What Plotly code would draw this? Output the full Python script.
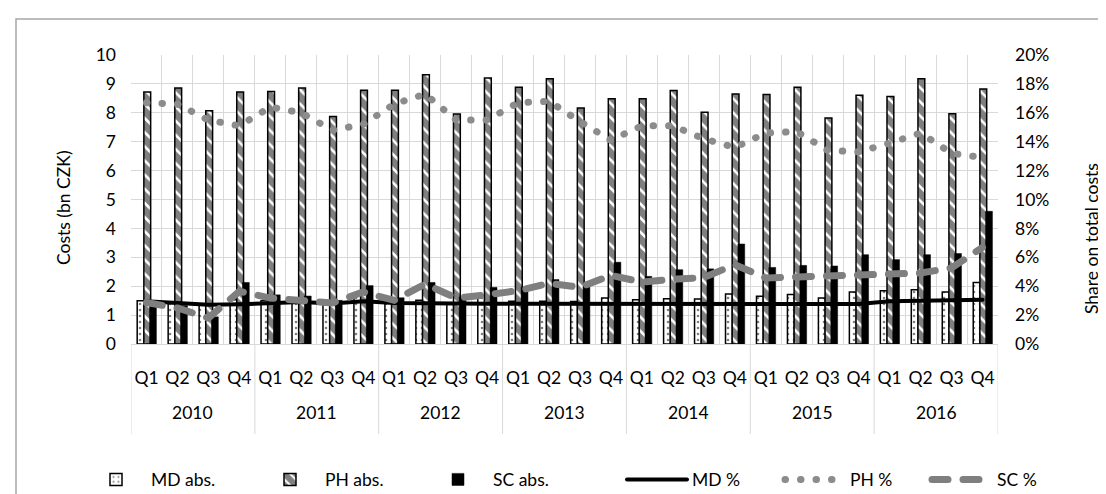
import plotly.graph_objects as go

years = ["2010", "2011", "2012", "2013", "2014", "2015", "2016"]
quarters = ["Q1", "Q2", "Q3", "Q4"]

md_abs = [1.50, 1.45, 1.38, 1.53, 1.50, 1.59, 1.49, 1.68,
          1.50, 1.51, 1.43, 1.68, 1.48, 1.48, 1.47, 1.59,
          1.53, 1.57, 1.56, 1.73, 1.65, 1.71, 1.59, 1.80,
          1.84, 1.88, 1.80, 2.13]
ph_abs = [8.72, 8.86, 8.07, 8.72, 8.74, 8.86, 7.87, 8.78,
          8.78, 9.32, 7.96, 9.20, 8.88, 9.18, 8.17, 8.49,
          8.49, 8.77, 8.02, 8.65, 8.63, 8.88, 7.82, 8.61,
          8.56, 9.18, 7.97, 8.82]
sc_abs = [1.50, 1.33, 0.94, 2.13, 1.70, 1.66, 1.51, 2.02,
          1.60, 2.13, 1.63, 1.96, 1.96, 2.23, 2.00, 2.83,
          2.34, 2.57, 2.60, 3.46, 2.65, 2.72, 2.70, 3.09,
          2.92, 3.09, 3.13, 4.59]
md_pct = [2.95, 2.85, 2.72, 2.75, 2.84, 2.90, 2.80, 2.95,
          2.84, 2.80, 2.78, 2.78, 2.78, 2.78, 2.76, 2.76,
          2.76, 2.76, 2.76, 2.77, 2.77, 2.77, 2.77, 2.77,
          2.95, 2.97, 3.00, 3.07]
ph_pct = [16.7, 16.6, 15.5, 15.1, 16.4, 16.0, 14.8, 15.2,
          16.6, 17.3, 15.5, 15.5, 16.7, 16.8, 15.4, 14.1,
          15.1, 15.1, 14.2, 13.6, 14.6, 14.7, 13.4, 13.3,
          13.9, 14.6, 13.2, 12.9]
sc_pct = [2.87, 2.49, 1.80, 3.65, 3.18, 3.00, 2.84, 3.60,
          3.02, 4.15, 3.18, 3.41, 3.69, 4.20, 3.92, 4.75,
          4.29, 4.48, 4.60, 5.49, 4.57, 4.64, 4.73, 4.80,
          4.80, 4.91, 5.26, 6.69]

x_q = [q for _ in years for q in quarters]
xpos = list(range(len(x_q)))          # category index positions
nq = len(quarters)

FONT = "Lato, 'Open Sans', sans-serif"
FS = 17.5
GRID = "#d9d9d9"

L, R, T, B = 123, 990, 47, 336
W, H = 1106, 494
pw, ph = R - L, B - T

def px(xp):
    return (xp - L) / pw

def py(yp):
    return (B - yp) / ph

LEG_Y = 1 - 471.5 / H
leg_text_x = [144, 318, 486, 685, 843, 990]

fig = go.Figure()

fig.add_trace(go.Bar(
    name="MD abs.", x=xpos, y=md_abs, width=0.22, offset=-0.30, legend="legend",
    marker=dict(color="white", line=dict(color="black", width=1.5),
                pattern=dict(shape=".", fgcolor="black", bgcolor="white",
                             size=6, solidity=0.15, fillmode="overlay")),
))
fig.add_trace(go.Bar(
    name="PH abs.", x=xpos, y=ph_abs, width=0.22, offset=-0.085, legend="legend2",
    marker=dict(color="white", line=dict(color="black", width=1.5),
                pattern=dict(shape="\\", fgcolor="black", bgcolor="white",
                             size=10, solidity=0.75, fillmode="overlay")),
))
fig.add_trace(go.Bar(
    name="SC abs.", x=xpos, y=sc_abs, width=0.22, offset=0.10, legend="legend3",
    marker=dict(color="black", line=dict(color="black", width=0.5)),
))
fig.add_trace(go.Scatter(
    name="MD %", x=xpos, y=md_pct, yaxis="y2", mode="lines", legend="legend4",
    line=dict(color="black", width=4),
))
fig.add_trace(go.Scatter(
    name="PH %", x=xpos, y=ph_pct, yaxis="y2", mode="lines", legend="legend5",
    line=dict(color="#8c8c8c", width=7, dash="0.5px,15px"),
))
fig.add_trace(go.Scatter(
    name="SC %", x=xpos, y=sc_pct, yaxis="y2", mode="lines", legend="legend6",
    line=dict(color="#7f7f7f", width=7, dash="16px,15px"),
))

def leg(tx):
    return dict(orientation="h", xref="container", yref="container",
                x=(tx - 71) / W, xanchor="left", y=LEG_Y, yanchor="middle",
                font=dict(size=FS), itemwidth=60, bgcolor="rgba(0,0,0,0)")

legends = {("legend" if i == 0 else "legend%d" % (i + 1)): leg(tx)
           for i, tx in enumerate(leg_text_x)}

# year group labels and group dividers
annotations = []
for k, yr in enumerate(years):
    grp = xpos[k * nq:(k + 1) * nq]
    annotations.append(dict(text=yr, xref="x", yref="paper",
                            x=sum(grp) / len(grp), y=py(404),
                            showarrow=False, xanchor="center", yanchor="middle",
                            font=dict(size=FS)))
annotations += [
    dict(text="Costs (bn CZK)", xref="paper", yref="paper",
         x=px(55), y=py(200), textangle=-90, showarrow=False,
         xanchor="center", yanchor="middle", font=dict(size=FS)),
    dict(text="Share on total costs", xref="paper", yref="paper",
         x=px(1083), y=py(231), textangle=-90, showarrow=False,
         xanchor="center", yanchor="middle", font=dict(size=FS)),
]

shapes = [dict(type="rect", xref="paper", yref="paper",
               x0=px(8), x1=px(1200), y0=py(11), y1=py(600),
               line=dict(color="#a6a6a6", width=1.5), fillcolor="rgba(0,0,0,0)",
               layer="below")]
for k in range(len(years) + 1):
    xb = k * nq - 0.5
    shapes.append(dict(type="line", xref="x", yref="paper", x0=xb, x1=xb,
                       y0=0, y1=py(426), line=dict(color=GRID, width=1),
                       layer="below"))

fig.update_layout(
    width=W, height=H,
    margin=dict(l=L, r=W - R, t=T, b=H - B, autoexpand=False),
    paper_bgcolor="white", plot_bgcolor="white",
    barmode="overlay",
    font=dict(family=FONT, size=FS, color="black"),
    showlegend=True,
    xaxis=dict(range=[-0.5, len(xpos) - 0.5], tickmode="array", tickvals=xpos,
               ticktext=x_q, showgrid=False, zeroline=False, showline=True,
               linecolor=GRID, ticks="", tickangle=0, ticklabelstandoff=18,
               tickfont=dict(size=FS), fixedrange=True,
               minor=dict(tickmode="linear", tick0=-0.5, dtick=1, showgrid=True,
                          gridcolor=GRID, gridwidth=1, ticks="")),
    yaxis=dict(range=[0, 10], dtick=1, showgrid=True, gridcolor=GRID,
               gridwidth=1, zeroline=False, ticklabelstandoff=14,
               tickfont=dict(size=FS), fixedrange=True),
    yaxis2=dict(range=[0, 20], dtick=2, ticksuffix="%", overlaying="y",
                side="right", showgrid=False, zeroline=False,
                ticklabelstandoff=16, tickfont=dict(size=FS)),
    shapes=shapes,
    annotations=annotations,
    **legends,
)

post = ("var s=document.createElement('style');"
        "s.textContent='path.js-line{stroke-linecap:round !important;}';"
        "document.head.appendChild(s);")
fig.write_html("out.html", post_script=post)
